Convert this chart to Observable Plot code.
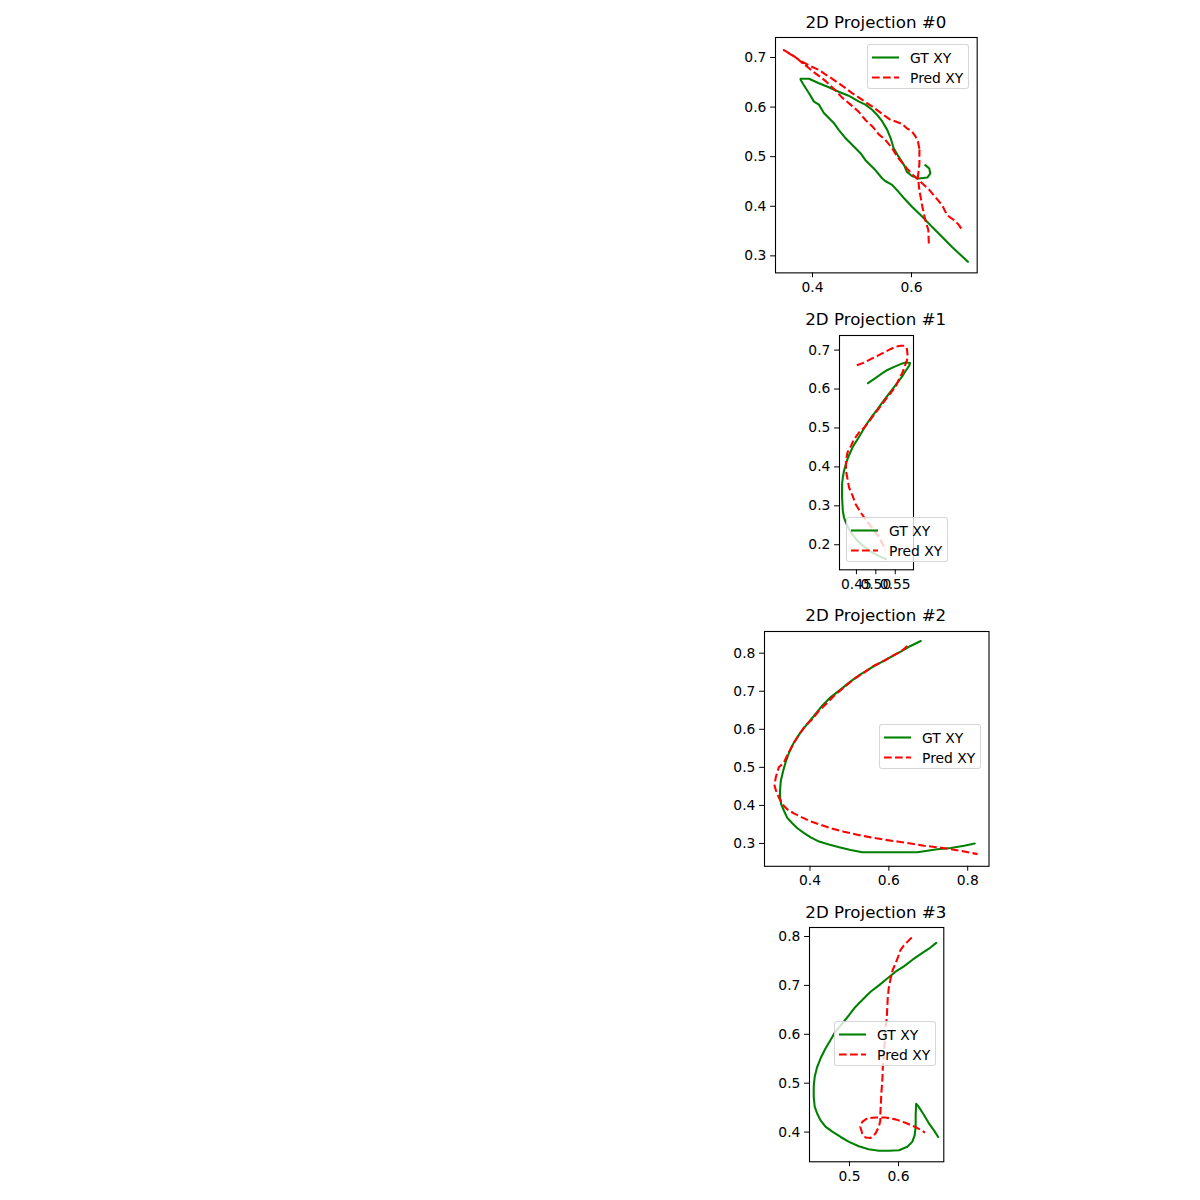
<!DOCTYPE html>
<html>
<head>
<meta charset="utf-8">
<script src="https://cdn.jsdelivr.net/npm/d3@7"></script>
<script src="https://cdn.jsdelivr.net/npm/@observablehq/plot@0.6"></script>
<style>
  body { margin: 0; background: #fff; }
  #fig { position: relative; width: 1200px; height: 1200px; background: #fff; font-family: "DejaVu Sans", sans-serif; overflow: hidden; }
  .title { position: absolute; font-size: 16.67px; line-height: 20px; text-align: center; color: #000; white-space: nowrap; }
  .panel { position: absolute; }
  .legend { position: absolute; width: 102px; height: 45px; background: rgba(255,255,255,0.8); border: 1px solid rgba(204,204,204,0.8); border-radius: 3px; box-sizing: border-box; }
  .legend svg { position: absolute; left: -1px; top: -1px; overflow: visible; }
</style>
</head>
<body>
<div id="fig"></div>
<script>
// ---- Data ----
const seriesNames = ["GT XY", "Pred XY"];
const titles = ["2D Projection #0", "2D Projection #1", "2D Projection #2", "2D Projection #3"];

const gt0 = [[0.628,0.483],[0.636,0.476],[0.638,0.466],[0.632,0.458],[0.615,0.456],[0.601,0.461],[0.591,0.469],[0.585,0.483],[0.574,0.500],[0.564,0.517],[0.558,0.537],[0.551,0.554],[0.541,0.571],[0.531,0.584],[0.521,0.594],[0.507,0.605],[0.494,0.611],[0.473,0.623],[0.453,0.631],[0.433,0.640],[0.413,0.648],[0.393,0.657],[0.376,0.657],[0.376,0.655],[0.382,0.645],[0.393,0.628],[0.403,0.611],[0.413,0.605],[0.423,0.588],[0.433,0.578],[0.443,0.568],[0.453,0.554],[0.467,0.537],[0.480,0.524],[0.497,0.507],[0.507,0.493],[0.527,0.473],[0.541,0.456],[0.547,0.451],[0.561,0.443],[0.574,0.429],[0.585,0.416],[0.601,0.399],[0.622,0.379],[0.642,0.358],[0.662,0.338],[0.682,0.318],[0.696,0.305],[0.714,0.288]];
const pred0 = [[0.635,0.325],[0.634,0.352],[0.628,0.372],[0.622,0.399],[0.616,0.432],[0.613,0.459],[0.616,0.486],[0.616,0.513],[0.617,0.510],[0.613,0.531],[0.608,0.541],[0.601,0.551],[0.591,0.557],[0.581,0.566],[0.568,0.571],[0.558,0.574],[0.541,0.586],[0.521,0.601],[0.500,0.615],[0.480,0.628],[0.467,0.638],[0.453,0.648],[0.440,0.657],[0.426,0.666],[0.413,0.675],[0.393,0.684],[0.376,0.693],[0.359,0.705],[0.342,0.715],[0.366,0.700],[0.386,0.684],[0.406,0.668],[0.426,0.653],[0.443,0.637],[0.460,0.619],[0.477,0.605],[0.494,0.590],[0.507,0.574],[0.521,0.561],[0.534,0.545],[0.547,0.534],[0.561,0.517],[0.571,0.500],[0.581,0.488],[0.591,0.476],[0.601,0.465],[0.611,0.456],[0.622,0.446],[0.635,0.434],[0.648,0.419],[0.662,0.402],[0.672,0.382],[0.686,0.372],[0.696,0.362],[0.702,0.352]];

const gt1 = [[0.480,0.615],[0.496,0.626],[0.513,0.638],[0.530,0.649],[0.547,0.657],[0.564,0.664],[0.577,0.668],[0.588,0.667],[0.586,0.660],[0.577,0.647],[0.569,0.634],[0.556,0.617],[0.543,0.600],[0.530,0.583],[0.517,0.566],[0.504,0.548],[0.491,0.531],[0.479,0.514],[0.466,0.493],[0.453,0.471],[0.442,0.454],[0.434,0.437],[0.427,0.420],[0.423,0.407],[0.418,0.390],[0.415,0.373],[0.413,0.356],[0.413,0.322],[0.414,0.304],[0.415,0.287],[0.418,0.270],[0.423,0.257],[0.431,0.240],[0.440,0.226],[0.453,0.210],[0.470,0.195],[0.491,0.180],[0.513,0.169],[0.526,0.163]];
const pred1 = [[0.451,0.661],[0.470,0.668],[0.487,0.677],[0.504,0.685],[0.521,0.694],[0.539,0.703],[0.552,0.709],[0.564,0.711],[0.575,0.711],[0.580,0.703],[0.582,0.685],[0.580,0.673],[0.575,0.660],[0.569,0.643],[0.560,0.626],[0.552,0.608],[0.539,0.591],[0.526,0.574],[0.513,0.557],[0.500,0.540],[0.487,0.523],[0.470,0.501],[0.457,0.489],[0.444,0.471],[0.436,0.454],[0.427,0.437],[0.423,0.416],[0.423,0.390],[0.427,0.369],[0.431,0.347],[0.440,0.326],[0.448,0.304],[0.461,0.283],[0.470,0.270],[0.483,0.253],[0.496,0.236],[0.509,0.219],[0.520,0.197],[0.523,0.185]];

const gt2 = [[0.681,0.832],[0.655,0.819],[0.630,0.804],[0.605,0.790],[0.579,0.775],[0.554,0.761],[0.529,0.745],[0.503,0.726],[0.478,0.705],[0.452,0.684],[0.431,0.662],[0.410,0.635],[0.393,0.614],[0.376,0.592],[0.359,0.565],[0.347,0.539],[0.338,0.513],[0.332,0.491],[0.326,0.465],[0.324,0.438],[0.324,0.421],[0.327,0.403],[0.334,0.386],[0.342,0.368],[0.355,0.353],[0.368,0.340],[0.385,0.327],[0.402,0.316],[0.423,0.305],[0.448,0.297],[0.474,0.290],[0.503,0.283],[0.533,0.277],[0.571,0.277],[0.622,0.277],[0.672,0.277],[0.698,0.281],[0.723,0.285],[0.757,0.288],[0.791,0.294],[0.818,0.300]];
const pred2 = [[0.647,0.819],[0.630,0.804],[0.609,0.793],[0.588,0.780],[0.562,0.767],[0.537,0.749],[0.512,0.732],[0.486,0.710],[0.465,0.692],[0.444,0.670],[0.423,0.649],[0.406,0.627],[0.385,0.605],[0.368,0.579],[0.355,0.557],[0.344,0.535],[0.334,0.513],[0.321,0.500],[0.313,0.473],[0.310,0.452],[0.314,0.438],[0.321,0.421],[0.330,0.403],[0.342,0.390],[0.359,0.379],[0.381,0.368],[0.402,0.358],[0.427,0.349],[0.452,0.340],[0.486,0.331],[0.520,0.323],[0.554,0.316],[0.588,0.310],[0.622,0.305],[0.655,0.300],[0.689,0.294],[0.723,0.290],[0.757,0.285],[0.791,0.279],[0.825,0.272]];

const gt3 = [[0.677,0.787],[0.662,0.775],[0.645,0.764],[0.628,0.752],[0.611,0.739],[0.594,0.728],[0.577,0.714],[0.560,0.700],[0.543,0.687],[0.526,0.670],[0.512,0.656],[0.499,0.639],[0.485,0.622],[0.471,0.605],[0.461,0.588],[0.451,0.571],[0.441,0.551],[0.434,0.533],[0.429,0.513],[0.427,0.493],[0.427,0.472],[0.429,0.452],[0.434,0.438],[0.441,0.424],[0.451,0.411],[0.465,0.401],[0.482,0.390],[0.499,0.380],[0.519,0.371],[0.539,0.365],[0.560,0.362],[0.580,0.362],[0.601,0.363],[0.618,0.370],[0.628,0.380],[0.633,0.394],[0.635,0.411],[0.635,0.435],[0.636,0.458],[0.641,0.452],[0.652,0.435],[0.662,0.418],[0.672,0.404],[0.681,0.390]];
const pred3 = [[0.627,0.798],[0.618,0.789],[0.611,0.782],[0.604,0.772],[0.599,0.758],[0.594,0.745],[0.588,0.731],[0.584,0.714],[0.580,0.694],[0.578,0.673],[0.577,0.653],[0.576,0.632],[0.573,0.609],[0.572,0.585],[0.570,0.561],[0.568,0.533],[0.567,0.506],[0.565,0.479],[0.564,0.458],[0.563,0.438],[0.563,0.424],[0.560,0.411],[0.553,0.397],[0.543,0.388],[0.533,0.389],[0.526,0.397],[0.522,0.411],[0.526,0.421],[0.536,0.428],[0.553,0.430],[0.573,0.430],[0.594,0.426],[0.614,0.419],[0.631,0.412],[0.645,0.405],[0.654,0.399]];

// tick values per panel
const xTicks0 = [0.4, 0.6];             const yTicks0 = [0.3, 0.4, 0.5, 0.6, 0.7];
const xTicks1 = [0.45, 0.50, 0.55];     const yTicks1 = [0.2, 0.3, 0.4, 0.5, 0.6, 0.7];
const xTicks2 = [0.4, 0.6, 0.8];        const yTicks2 = [0.3, 0.4, 0.5, 0.6, 0.7, 0.8];
const xTicks3 = [0.5, 0.6];             const yTicks3 = [0.4, 0.5, 0.6, 0.7, 0.8];

// axis limits per panel
const xLim0 = [0.3253, 0.7327]; const yLim0 = [0.2657, 0.7403];
const xLim1 = [0.4064, 0.5970]; const yLim1 = [0.1357, 0.7375];
const xLim2 = [0.2846, 0.8540]; const yLim2 = [0.2400, 0.8570];
const xLim3 = [0.4184, 0.6924]; const yLim3 = [0.3393, 0.8184];

// ---- Layout (pixel placement of each axes frame) ----
const panels = [
  {title: titles[0], gt: gt0, pred: pred0, xd: xLim0, yd: yLim0, xt: xTicks0, yt: yTicks0, xf: ".1f", L: 775,   R: 976.7, T: 37.3,  B: 272.7, titleY: 23.3,  lg: [866.7, 44.3]},
  {title: titles[1], gt: gt1, pred: pred1, xd: xLim1, yd: yLim1, xt: xTicks1, yt: yTicks1, xf: ".2f", L: 838.7, R: 912.7, T: 334.7, B: 569,   titleY: 320,   lg: [845.7, 516.7]},
  {title: titles[2], gt: gt2, pred: pred2, xd: xLim2, yd: yLim2, xt: xTicks2, yt: yTicks2, xf: ".1f", L: 763.5, R: 988,   T: 630.7, B: 865.5, titleY: 615.7, lg: [878.7, 724.3]},
  {title: titles[3], gt: gt3, pred: pred3, xd: xLim3, yd: yLim3, xt: xTicks3, yt: yTicks3, xf: ".1f", L: 808.7, R: 943,   T: 926.7, B: 1161,  titleY: 913.3, lg: [833.7, 1021]}
];

const fig = document.getElementById("fig");
const mL = 50, mR = 10, mT = 10, mB = 30;
const lw = 2.08, dash = "7.7,3.3";

for (const p of panels) {
  const fw = p.R - p.L, fh = p.B - p.T;
  const chart = Plot.plot({
    width: fw + mL + mR,
    height: fh + mT + mB,
    marginLeft: mL, marginRight: mR, marginTop: mT, marginBottom: mB,
    style: {fontFamily: "DejaVu Sans", fontSize: "13.9px", color: "black", background: "transparent", overflow: "visible"},
    x: {domain: p.xd, ticks: p.xt, tickFormat: d3.format(p.xf), tickSize: 4.9, tickPadding: 4.2, label: null},
    y: {domain: p.yd, ticks: p.yt, tickFormat: d3.format(".1f"), tickSize: 4.9, tickPadding: 4.2, label: null},
    marks: [
      Plot.line(p.gt, {stroke: "green", strokeWidth: lw}),
      Plot.line(p.pred, {stroke: "red", strokeWidth: lw, strokeDasharray: dash, strokeLinecap: "butt"}),
      Plot.frame({stroke: "black", strokeWidth: 1.1})
    ]
  });
  const wrap = document.createElement("div");
  wrap.className = "panel";
  wrap.style.left = (p.L - mL) + "px";
  wrap.style.top = (p.T - mT) + "px";
  wrap.appendChild(chart);
  fig.appendChild(wrap);

  const t = document.createElement("div");
  t.className = "title";
  t.textContent = p.title;
  t.style.left = (p.L - 100) + "px";
  t.style.width = (fw + 200) + "px";
  t.style.top = (p.titleY - 10) + "px";
  fig.appendChild(t);

  const lg = document.createElement("div");
  lg.className = "legend";
  lg.style.left = p.lg[0] + "px";
  lg.style.top = p.lg[1] + "px";
  lg.innerHTML =
    `<svg width="102" height="46" font-family="DejaVu Sans" font-size="13.9">
      <line x1="5" x2="32" y1="13.5" y2="13.5" stroke="green" stroke-width="${lw}"/>
      <text x="43" y="13.5" dominant-baseline="central" fill="#000">${seriesNames[0]}</text>
      <line x1="5" x2="32" y1="33.5" y2="33.5" stroke="red" stroke-width="${lw}" stroke-dasharray="${dash}" stroke-linecap="butt"/>
      <text x="43" y="33.5" dominant-baseline="central" fill="#000">${seriesNames[1]}</text>
    </svg>`;
  fig.appendChild(lg);
}
</script>
</body>
</html>
